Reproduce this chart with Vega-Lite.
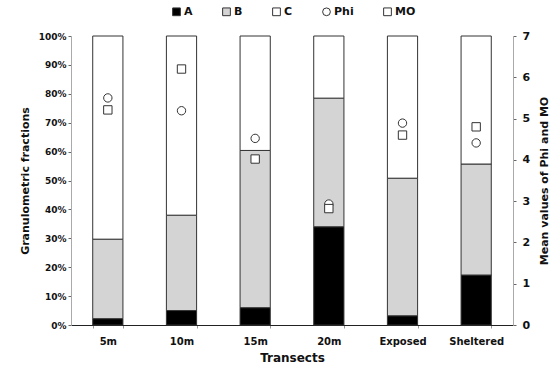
{
  "$schema": "https://vega.github.io/schema/vega-lite/v6.json",
  "width": 442,
  "height": 289,
  "autosize": {"type": "none"},
  "padding": {"left": 71, "top": 36, "right": 44, "bottom": 48},
  "background": "white",
  "config": {
    "view": {"stroke": null},
    "font": "DejaVu Sans",
    "axis": {"grid": false, "labelColor": "#111", "titleColor": "#111", "titleFontWeight": "bold", "labelFontWeight": "bold"}
  },
  "datasets": {
    "frac": [
      {"transect": "5m", "series": "A", "pct": 2.2},
      {"transect": "5m", "series": "B", "pct": 27.5},
      {"transect": "5m", "series": "C", "pct": 70.3},
      {"transect": "10m", "series": "A", "pct": 5.0},
      {"transect": "10m", "series": "B", "pct": 33.0},
      {"transect": "10m", "series": "C", "pct": 62.0},
      {"transect": "15m", "series": "A", "pct": 6.0},
      {"transect": "15m", "series": "B", "pct": 54.4},
      {"transect": "15m", "series": "C", "pct": 39.6},
      {"transect": "20m", "series": "A", "pct": 34.0},
      {"transect": "20m", "series": "B", "pct": 44.5},
      {"transect": "20m", "series": "C", "pct": 21.5},
      {"transect": "Exposed", "series": "A", "pct": 3.2},
      {"transect": "Exposed", "series": "B", "pct": 47.6},
      {"transect": "Exposed", "series": "C", "pct": 49.2},
      {"transect": "Sheltered", "series": "A", "pct": 17.3},
      {"transect": "Sheltered", "series": "B", "pct": 38.4},
      {"transect": "Sheltered", "series": "C", "pct": 44.3}
    ],
    "means": [
      {"transect": "5m", "series": "Phi", "value": 5.5},
      {"transect": "5m", "series": "MO", "value": 5.21},
      {"transect": "10m", "series": "Phi", "value": 5.19},
      {"transect": "10m", "series": "MO", "value": 6.2},
      {"transect": "15m", "series": "Phi", "value": 4.52},
      {"transect": "15m", "series": "MO", "value": 4.02},
      {"transect": "20m", "series": "Phi", "value": 2.93},
      {"transect": "20m", "series": "MO", "value": 2.82},
      {"transect": "Exposed", "series": "Phi", "value": 4.89},
      {"transect": "Exposed", "series": "MO", "value": 4.6},
      {"transect": "Sheltered", "series": "Phi", "value": 4.41},
      {"transect": "Sheltered", "series": "MO", "value": 4.8}
    ]
  },
  "layer": [
    {
      "data": {"name": "frac"},
      "mark": {"type": "bar", "stroke": "#333", "strokeWidth": 1},
      "encoding": {
        "x": {
          "field": "transect", "type": "nominal",
          "sort": ["5m", "10m", "15m", "20m", "Exposed", "Sheltered"],
          "scale": {"paddingInner": 0.59, "paddingOuter": 0.295},
          "axis": {"title": "Transects", "labelAngle": 0, "labelFontSize": 10, "titleFontSize": 12, "labelPadding": 8, "titlePadding": 6, "domainColor": "#222", "tickColor": "#999", "tickSize": 3, "tickBand": "extent"}
        },
        "y": {
          "field": "pct", "type": "quantitative", "stack": "zero",
          "scale": {"domain": [0, 100], "nice": false},
          "axis": {"title": "Granulometric fractions", "values": [0,10,20,30,40,50,60,70,80,90,100], "labelExpr": "datum.value + '%'", "labelFontSize": 9, "titleFontSize": 11, "titlePadding": 8, "domainColor": "#aaa", "tickColor": "#666", "tickSize": 3}
        },
        "fill": {
          "field": "series", "type": "nominal",
          "scale": {"domain": ["A", "B", "C", "Phi", "MO"], "range": ["#000000", "#d4d4d4", "#ffffff", "#ffffff", "#ffffff"]},
          "legend": {
            "orient": "none", "legendX": 100, "legendY": -30, "direction": "horizontal", "title": null,
            "symbolType": "square", "symbolStrokeColor": "#333", "symbolStrokeWidth": 1, "symbolSize": 60,
            "labelFontWeight": "bold", "labelFontSize": 11, "labelColor": "#111", "columnPadding": 27, "labelOffset": 2,
            "encode": {"symbols": {"update": {"shape": {"signal": "datum.value === 'Phi' ? 'circle' : 'square'"}, "stroke": {"value": "#333"}}}}
          }
        },
        "order": {"field": "series", "sort": "ascending"}
      }
    },
    {
      "data": {"name": "means"},
      "mark": {"type": "point", "filled": true, "fill": "white", "stroke": "#333", "strokeWidth": 1, "size": 70, "opacity": 1},
      "encoding": {
        "x": {"field": "transect", "type": "nominal", "sort": ["5m", "10m", "15m", "20m", "Exposed", "Sheltered"]},
        "y": {
          "field": "value", "type": "quantitative",
          "scale": {"domain": [0, 7], "nice": false},
          "axis": {"orient": "right", "title": "Mean values of Phi and MO", "titleAngle": 270, "titleBaseline": "bottom", "values": [0,1,2,3,4,5,6,7], "labelFontSize": 11, "titleFontSize": 11, "titlePadding": 20, "domainColor": "#aaa", "tickColor": "#666", "tickSize": 3, "labelPadding": 6}
        },
        "shape": {
          "field": "series", "type": "nominal",
          "scale": {"domain": ["Phi", "MO"], "range": ["circle", "square"]},
          "legend": null
        }
      }
    }
  ],
  "resolve": {"scale": {"y": "independent"}}
}
